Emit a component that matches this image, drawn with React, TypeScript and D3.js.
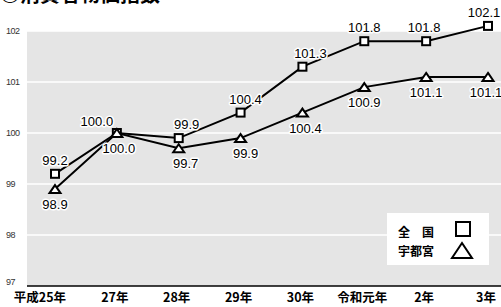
import * as d3 from "d3";

const categories = ["平成25年", "27年", "28年", "29年", "30年", "令和元年", "2年", "3年"];
const zenkoku = [99.2, 100.0, 99.9, 100.4, 101.3, 101.8, 101.8, 102.1];
const utsunomiya = [98.9, 100.0, 99.7, 99.9, 100.4, 100.9, 101.1, 101.1];
const yTicks = [97, 98, 99, 100, 101, 102];

// small nudges for value labels so they don't collide
const zenkokuDx = [0, -20, 8, 5, 8, 0, -2, -4];
const utsuDx = [0, 2, 7, 5, 3, 0, 0, -2];

const W = 501;
const H = 307;
const font = "'Liberation Sans', Arial, sans-serif";
const jpFont = "'Noto Sans CJK JP', sans-serif";

export default function App() {
  const x = d3.scalePoint<string>().domain(categories).range([55, 488]);
  const y = d3.scaleLinear().domain([97, 102]).range([286, 31]);

  const line = d3
    .line<number>()
    .x((_, i) => x(categories[i]) as number)
    .y((d) => y(d));

  const tri = (cx: number, cy: number, w: number, h: number) =>
    `M${cx},${cy - h / 2}L${cx + w / 2},${cy + h / 2}L${cx - w / 2},${cy + h / 2}Z`;

  const halo = {
    paintOrder: "stroke",
    stroke: "#fff",
    strokeWidth: 3,
    strokeLinejoin: "round" as const,
  };

  return (
    <svg
      width={W}
      height={H}
      style={{ position: "absolute", left: 0, top: 0, background: "#fff" }}
    >
      {/* title, mostly cut off at the top */}
      <text x={0} y={2} fontFamily={jpFont} fontWeight="bold" fontSize={20} fill="#000">
        ◎消費者物価指数
      </text>

      <rect x={27} y={y(102)} width={W - 27} height={y(97) - y(102)} fill="#e5e5e5" />

      {yTicks.map((t) => (
        <g key={t}>
          {t !== 97 && (
            <line x1={27} x2={W} y1={y(t)} y2={y(t)} stroke="#fff" strokeWidth={1.5} />
          )}
          <text
            x={6}
            y={y(t) + (t === 97 ? -1 : 3)}
            fontFamily={font}
            fontSize={9}
            fill="#333"
            letterSpacing={-0.5}
          >
            {t}
          </text>
        </g>
      ))}

      <line x1={27} x2={W} y1={y(97)} y2={y(97)} stroke="#000" strokeWidth={1.5} />

      {categories.map((c, i) => (
        <text
          key={c}
          x={(x(c) as number) + (i === 0 ? -15 : -2)}
          y={302}
          textAnchor="middle"
          fontFamily={jpFont}
          fontWeight="bold"
          fontSize={12.5}
          fill="#000"
        >
          {c}
        </text>
      ))}

      <path d={line(zenkoku) || ""} fill="none" stroke="#000" strokeWidth={2} />
      <path d={line(utsunomiya) || ""} fill="none" stroke="#000" strokeWidth={2} />

      {zenkoku.map((v, i) => (
        <rect
          key={"s" + i}
          x={(x(categories[i]) as number) - 4}
          y={y(v) - 4}
          width={8}
          height={8}
          fill="#fff"
          stroke="#000"
          strokeWidth={2}
        />
      ))}
      {utsunomiya.map((v, i) => (
        <path
          key={"t" + i}
          d={tri(x(categories[i]) as number, y(v), 11, 8)}
          fill="#fff"
          stroke="#000"
          strokeWidth={2}
          strokeLinejoin="miter"
        />
      ))}

      {zenkoku.map((v, i) => (
        <text
          key={"zl" + i}
          x={(x(categories[i]) as number) + zenkokuDx[i]}
          y={y(v) - (i === 1 ? 7 : 9)}
          textAnchor="middle"
          fontFamily={font}
          fontSize={13}
          fill="#000"
          style={halo}
        >
          {v.toFixed(1)}
        </text>
      ))}
      {utsunomiya.map((v, i) => (
        <text
          key={"ul" + i}
          x={(x(categories[i]) as number) + utsuDx[i]}
          y={y(v) + 20}
          textAnchor="middle"
          fontFamily={font}
          fontSize={13}
          fill="#000"
          style={halo}
        >
          {v.toFixed(1)}
        </text>
      ))}

      {/* legend */}
      <rect x={387} y={213} width={102} height={52} fill="#fff" />
      <text x={398} y={237} fontFamily={jpFont} fontWeight="bold" fontSize={12} fill="#000">
        全　国
      </text>
      <text x={398} y={256} fontFamily={jpFont} fontWeight="bold" fontSize={12} fill="#000">
        宇都宮
      </text>
      <rect x={456} y={222} width={14} height={14} fill="none" stroke="#000" strokeWidth={2} />
      <path d={tri(462, 250.5, 20, 15)} fill="none" stroke="#000" strokeWidth={2} />
    </svg>
  );
}
